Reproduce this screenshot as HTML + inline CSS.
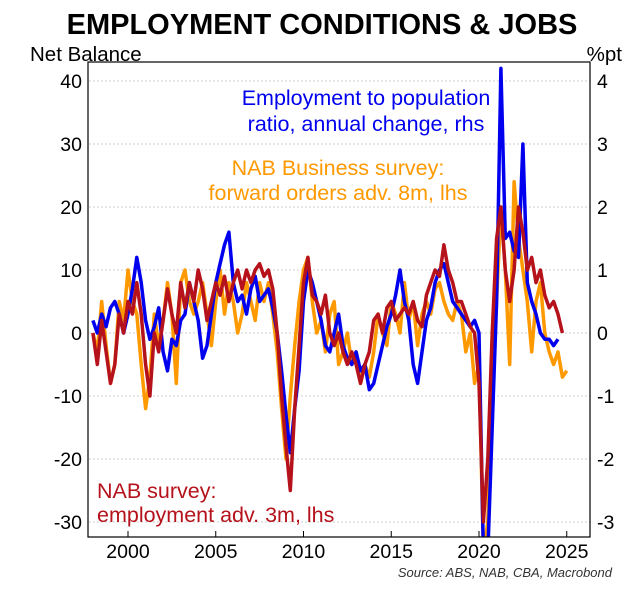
<!DOCTYPE html>
<html><head><meta charset="utf-8"><style>
body{margin:0;background:#fff;}
svg{display:block;font-family:"Liberation Sans",sans-serif;}
</style></head><body>
<svg width="643" height="593">
<text x="322" y="34" text-anchor="middle" font-size="29" font-weight="bold">EMPLOYMENT CONDITIONS &amp; JOBS</text>
<text x="30" y="61" font-size="20.5">Net Balance</text>
<text x="622" y="61" font-size="20.5" text-anchor="end">%pt</text>
<defs><clipPath id="pc"><rect x="89" y="62" width="501" height="475"/></clipPath></defs>
<g id="grid"></g>
<g id="series" clip-path="url(#pc)"></g>
<rect x="88" y="62" width="502" height="475" fill="none" stroke="#000" stroke-width="1.2"/>
<g id="axes"></g>
<text x="366" y="105" font-size="21.5" fill="#0000ee" text-anchor="middle">Employment to population</text>
<text x="366" y="131" font-size="21.5" fill="#0000ee" text-anchor="middle">ratio, annual change, rhs</text>
<text x="338" y="175" font-size="21.5" fill="#ff9900" text-anchor="middle">NAB Business survey:</text>
<text x="338" y="200" font-size="21.5" fill="#ff9900" text-anchor="middle">forward orders adv. 8m, lhs</text>
<text x="97" y="498" font-size="21.5" fill="#b5121b">NAB survey:</text>
<text x="97" y="522" font-size="21.5" fill="#b5121b">employment adv. 3m, lhs</text>
<text x="612" y="577" font-size="13" font-style="italic" fill="#333" text-anchor="end">Source: ABS, NAB, CBA, Macrobond</text>
</svg>
<script>
const leftTicks=[40,30,20,10,0,-10,-20,-30];
const rightTicks=["4","3","2","1","0","-1","-2","-3"];
const yearTicks=[2000,2005,2010,2015,2020,2025];
const startYear=1998;
const orange=[0,-3,5,-2,-8,-5,5,2,10,5,3,-5,-12,-7,3,-2,2,8,3,-8,8,10,5,3,5,8,3,-2,5,10,3,8,5,0,3,8,5,2,8,5,8,3,-3,-12,-20,-10,-2,5,10,12,5,0,2,-3,3,5,-5,-3,0,-5,-3,-8,-5,-7,-3,3,0,-2,5,3,0,8,2,5,-2,3,5,3,7,8,5,3,2,5,3,-3,0,-8,-5,-35,-30,-8,5,20,10,-5,24,15,10,5,-3,5,8,0,-3,-5,-3,-7,-6];
const blue=[0.2,0.0,0.3,0.1,0.4,0.5,0.3,0.0,0.3,0.7,1.2,0.8,0.2,-0.1,0.1,0.4,-0.3,-0.6,-0.1,-0.2,0.2,0.3,0.8,0.5,0.2,-0.4,-0.2,0.3,0.8,1.1,1.4,1.6,0.8,0.5,0.6,0.3,0.7,0.9,0.5,0.6,0.7,0.4,0.0,-0.6,-1.3,-1.9,-1.2,-0.6,0.5,1.0,0.8,0.5,0.2,-0.2,-0.3,0.0,0.3,-0.2,-0.4,-0.5,-0.3,-0.6,-0.5,-0.9,-0.8,-0.5,-0.2,0.1,0.3,0.6,1.0,0.5,0.2,-0.5,-0.8,-0.3,0.2,0.4,0.8,1.0,1.1,0.8,0.5,0.4,0.3,0.2,0.1,0.2,0.0,-3.5,-3.5,-1.5,0.5,4.2,1.5,1.6,1.3,1.2,3.0,0.8,0.5,0.3,0.0,-0.1,-0.1,-0.2,-0.1];
const red=[0,-5,2,-3,-8,-5,3,0,5,3,8,3,-5,-10,0,-3,2,7,3,0,8,4,8,5,10,7,2,5,8,6,9,5,8,10,7,10,8,10,11,9,10,7,0,-10,-18,-25,-12,-2,8,12,6,5,3,6,0,-2,0,-3,-5,-3,-5,-8,-5,-3,2,3,0,4,5,2,3,4,3,5,2,1,6,8,10,9,14,10,8,5,5,3,1,0,-8,-30,-20,0,15,20,10,5,10,20,16,10,12,8,10,6,4,5,3,0];
const NS="http://www.w3.org/2000/svg";
function xs(t){return 128+(t-2000)*17.55;}
function yl(v){return 333-v*6.3;}
function yr(v){return yl(v*10);}
const grid=document.getElementById('grid'),axes=document.getElementById('axes'),ser=document.getElementById('series');
leftTicks.forEach((v,i)=>{
  const y=yl(v);
  const g=document.createElementNS(NS,'line');
  g.setAttribute('x1',89);g.setAttribute('x2',590);g.setAttribute('y1',y);g.setAttribute('y2',y);
  g.setAttribute('stroke','#ccc');g.setAttribute('stroke-dasharray','2,2');
  
  
  grid.appendChild(g);
  const t=document.createElementNS(NS,'text');
  t.setAttribute('x',82);t.setAttribute('y',y+7);t.setAttribute('text-anchor','end');t.setAttribute('font-size','19.5');
  t.textContent=v;
  
  
  axes.appendChild(t);
  const r=document.createElementNS(NS,'text');
  r.setAttribute('x',597);r.setAttribute('y',y+7);r.setAttribute('font-size','19.5');
  r.textContent=rightTicks[i];
  
  
  axes.appendChild(r);
});
yearTicks.forEach(yr0=>{
  const x=xs(yr0);
  const l=document.createElementNS(NS,'line');
  l.setAttribute('x1',x);l.setAttribute('x2',x);l.setAttribute('y1',531);l.setAttribute('y2',537);l.setAttribute('stroke','#000');
  
  
  axes.appendChild(l);
  const t=document.createElementNS(NS,'text');
  t.setAttribute('x',x);t.setAttribute('y',558);t.setAttribute('text-anchor','middle');t.setAttribute('font-size','19.5');
  t.textContent=yr0;
  
  
  axes.appendChild(t);
});
function draw(arr,fy,color,name){
  const pts=arr.map((v,i)=>xs(startYear+i*0.25).toFixed(1)+','+fy(v).toFixed(1)).join(' ');
  const p=document.createElementNS(NS,'polyline');
  p.setAttribute('points',pts);p.setAttribute('fill','none');p.setAttribute('stroke',color);
  p.setAttribute('stroke-width','3.5');p.setAttribute('stroke-linejoin','round');
  
  
  ser.appendChild(p);
}
draw(orange,yl,'#ff9900','forward-orders-line');
draw(blue,yr,'#0000ee','employment-ratio-line');
draw(red,yl,'#b5121b','nab-employment-line');
</script>
</body></html>
